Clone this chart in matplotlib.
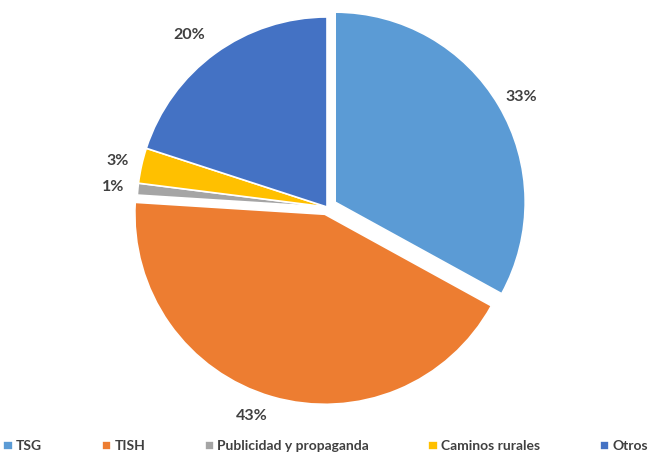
import matplotlib.pyplot as plt

categories = ['TSG', 'TISH', 'Publicidad y propaganda', 'Caminos rurales', 'Otros']
shares = [33, 43, 1, 3, 20]
colors = ['#5B9BD5', '#ED7D31', '#A5A5A5', '#FFC000', '#4472C4']
explode = [0.05, 0.04, 0, 0, 0]

W, H = 651, 453
cx, cy = 327, 246   # pie centre in pixels from bottom-left
r = 190             # radius in pixels
font = ['Lato', 'DejaVu Sans']

# small label nudges, in pixels (dx, dy)
nudges = [(3, -3), (-14, 3), (-2, 0), (-2, 0), (-13, 0)]

fig = plt.figure(figsize=(W / 100, H / 100), dpi=100)
ax = fig.add_axes([0, 0, 1, 1])

wedges, texts, autotexts = ax.pie(
    shares,
    colors=colors,
    explode=explode,
    startangle=90,
    counterclock=False,
    autopct='%d%%',
    pctdistance=1.12,
    wedgeprops=dict(edgecolor='white', linewidth=1.2),
    textprops=dict(fontsize=11.5, fontweight='bold', color='#404040', family=font),
    frame=True,
)
for t, (dx, dy) in zip(autotexts, nudges):
    x, y = t.get_position()
    t.set_position((x + dx / r, y + dy / r))

ax.axis('off')
ax.set_xlim(-cx / r, (W - cx) / r)
ax.set_ylim(-cy / r, (H - cy) / r)

fig.legend(
    wedges, categories,
    loc='lower left', bbox_to_anchor=(-0.014, -0.026),
    ncol=5, frameon=False,
    handlelength=0.67, handleheight=0.67, handletextpad=0.25,
    columnspacing=4.27,
    prop=dict(family=font, weight='bold', size=10.0),
    labelcolor='#404040',
)

fig.savefig('out.png', dpi=100)
